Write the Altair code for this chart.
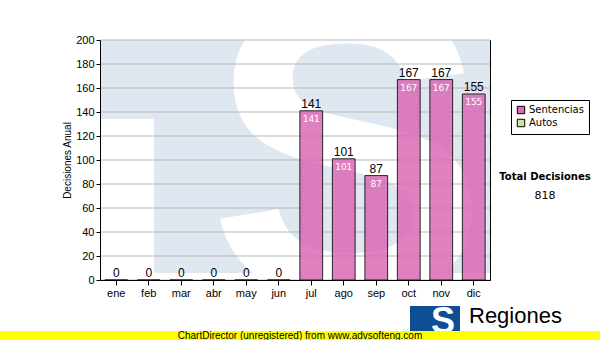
import altair as alt
import pandas as pd

months = ["ene", "feb", "mar", "abr", "may", "jun", "jul", "ago", "sep", "oct", "nov", "dic"]
sentencias = [0, 0, 0, 0, 0, 0, 141, 101, 87, 167, 167, 155]
series_names = ["Sentencias", "Autos"]
series_colors = ["#da6ab5", "#cce699"]
y_ticks = [0, 20, 40, 60, 80, 100, 120, 140, 160, 180, 200]
total_label = "Total Decisiones"
total_value = "818"

df = pd.DataFrame({"mes": months, "valor": sentencias, "serie": "Sentencias"})
df_pos = df[df["valor"] > 0]
grid_df = pd.DataFrame({"valor": y_ticks})
one = alt.Data(values=[{"a": 1}])

FONT = "Liberation Sans"
FONT2 = "DejaVu Sans"

x_axis = alt.Axis(title=None, labelAngle=0, labelFontSize=11, labelFont=FONT,
                  tickSize=5, labelPadding=2, domainColor="black", tickColor="black",
                  labelColor="black", grid=False, zindex=2)
x_scale = alt.Scale(paddingInner=0.3, paddingOuter=0.15)
y_scale = alt.Scale(domain=[0, 200], nice=False)
y_axis = alt.Axis(title="Decisiones Anual", values=y_ticks, tickCount=11, grid=False,
                  labelOverlap=False,
                  labelFontSize=11, labelFont=FONT, labelColor="black",
                  tickSize=4, labelPadding=2, domainColor="black", tickColor="black",
                  titleFontSize=10, titleFontWeight="normal", titleFont=FONT,
                  titlePadding=3, titleColor="black", zindex=2)


def xe():
    return alt.X("mes:N", sort=months, scale=x_scale, axis=x_axis)


def ye():
    return alt.Y("valor:Q", scale=y_scale, axis=y_axis, title="Decisiones Anual")


# watermark decoration
wm_blue = alt.Chart(one).mark_rect(color="#dfe8f1").encode(
    x=alt.value(0), x2=alt.value(390), y=alt.value(0), y2=alt.value(233))
wm_white = alt.Chart(one).mark_rect(color="white").encode(
    x=alt.value(0), x2=alt.value(54), y=alt.value(79), y2=alt.value(233))
wm_s = alt.Chart(one).mark_text(text="S", font=FONT, fontWeight="bold", fontSize=420,
                                color="white", align="center", baseline="middle",
                                clip=True).encode(
    x=alt.value(248), y=alt.value(128))

grid = alt.Chart(grid_df).mark_rule(color="#b8b8b8", strokeWidth=1).encode(y=ye())

bars = alt.Chart(df).mark_bar(stroke="black", strokeWidth=1, opacity=0.85).encode(
    x=xe(), y=ye(),
    color=alt.Color("serie:N", scale=alt.Scale(domain=series_names, range=series_colors),
                    legend=alt.Legend(title=None, orient="none", legendX=411, legendY=60,
                                      direction="vertical", symbolType="square", symbolSize=55,
                                      symbolStrokeColor="black", symbolStrokeWidth=1,
                                      symbolOpacity=1, labelFont=FONT2, labelFontSize=10,
                                      labelColor="black", labelOffset=3, rowPadding=1,
                                      strokeColor="black", fillColor="white", padding=5,
                                      labelLimit=200)))

top_labels = alt.Chart(df).mark_text(dy=-7, fontSize=12, font=FONT, color="black").encode(
    x=xe(), y=ye(), text="valor:Q")
in_labels = alt.Chart(df_pos).mark_text(dy=8, fontSize=9, font=FONT2, color="white").encode(
    x=xe(), y=ye(), text="valor:Q")

total_t = alt.Chart(one).mark_text(text=total_label, font=FONT2, fontWeight="bold", fontSize=10,
                                   color="black").encode(x=alt.value(445), y=alt.value(137))
total_v = alt.Chart(one).mark_text(text=total_value, font=FONT2, fontSize=11,
                                   color="black").encode(x=alt.value(445), y=alt.value(156))

logo_box = alt.Chart(one).mark_rect(color="#0d4f93").encode(
    x=alt.value(310), x2=alt.value(360), y=alt.value(266), y2=alt.value(292))
logo_s = alt.Chart(one).mark_text(text="S", font=FONT, fontWeight="bold", fontSize=36,
                                  color="white", baseline="alphabetic").encode(
    x=alt.value(343), y=alt.value(293))
logo_txt = alt.Chart(one).mark_text(text="Regiones", font=FONT, fontSize=22, color="black",
                                    align="left", baseline="alphabetic").encode(
    x=alt.value(369), y=alt.value(283))
band = alt.Chart(one).mark_rect(color="#ffff00").encode(
    x=alt.value(-100), x2=alt.value(500), y=alt.value(291), y2=alt.value(300))
band_txt = alt.Chart(one).mark_text(text="ChartDirector (unregistered) from www.advsofteng.com",
                                    font=FONT, fontSize=10, color="black",
                                    baseline="middle").encode(
    x=alt.value(200), y=alt.value(295.5))

chart = alt.layer(
    wm_blue, wm_white, wm_s, grid, bars, top_labels, in_labels,
    total_t, total_v, logo_box, logo_s, logo_txt, band, band_txt
).resolve_scale(color="independent").properties(
    width=390, height=240,
    autosize=alt.AutoSizeParams(type="none"),
    padding={"left": 100, "top": 40, "right": 110, "bottom": 60},
    background="white",
).configure_view(stroke="black", strokeWidth=1)

chart.save("out.html", embed_options={"renderer": "svg", "actions": False})
